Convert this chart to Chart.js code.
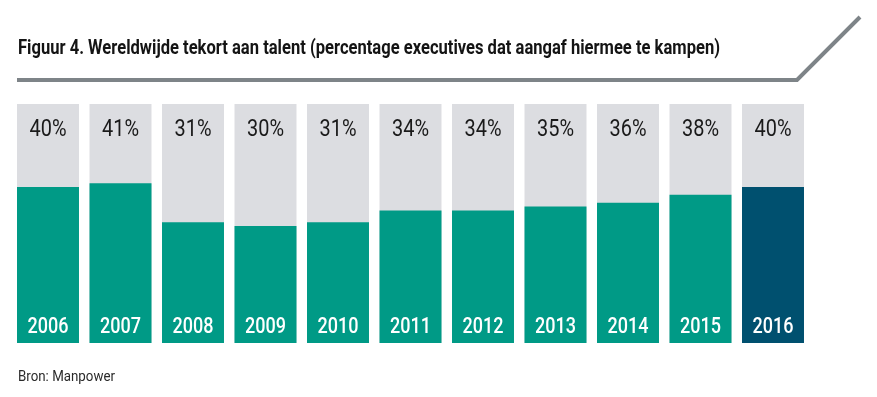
<!DOCTYPE html>
<html>
<head>
<meta charset="utf-8">
<script src="https://cdn.jsdelivr.net/npm/chart.js@4"></script>
<style>
  html, body { margin: 0; padding: 0; background: #ffffff; }
  #wrap { width: 877px; height: 397px; position: relative; }
</style>
</head>
<body>
<div id="wrap"><canvas id="talentChart" width="877" height="397"></canvas></div>
<script>
// Chart data
const years = ['2006', '2007', '2008', '2009', '2010', '2011', '2012', '2013', '2014', '2015', '2016'];
const shortagePct = [40, 41, 31, 30, 31, 34, 34, 35, 36, 38, 40];
const yMax = 61.3;

const titleText = 'Figuur 4. Wereldwijde tekort aan talent (percentage executives dat aangaf hiermee te kampen)';
const sourceText = 'Bron: Manpower';

// No condensed face installed, so text is squeezed with fillText's maxWidth
const fontFamily = "Roboto, 'DejaVu Sans', sans-serif";

// Colours: teal for all years, dark blue for the latest one
const barColors = years.map((y, i) => i === years.length - 1 ? '#00506f' : '#009a86');

// Title, rule line and source text
const frame = {
    id: 'frame',
    afterDraw(chart) {
        const ctx = chart.ctx;
        ctx.save();
        ctx.textBaseline = 'alphabetic';
        ctx.textAlign = 'left';
        ctx.fillStyle = '#141414';
        ctx.font = 'bold 20px ' + fontFamily;
        ctx.fillText(titleText, 18, 54, 702);

        ctx.strokeStyle = '#7e8488';
        ctx.lineWidth = 4;
        ctx.beginPath();
        ctx.moveTo(17, 80);
        ctx.lineTo(797, 80);
        ctx.lineTo(860, 17);
        ctx.stroke();

        ctx.fillStyle = '#2a2a2a';
        ctx.font = '14px ' + fontFamily;
        ctx.fillText(sourceText, 18, 381, 97);
        ctx.restore();
    }
};

// Percentage and year labels on the bars
const barLabels = {
    id: 'barLabels',
    afterDatasetsDraw(chart) {
        const ctx = chart.ctx;
        const meta = chart.getDatasetMeta(0);
        ctx.save();
        ctx.textAlign = 'center';
        ctx.textBaseline = 'alphabetic';
        meta.data.forEach((bar, i) => {
            ctx.fillStyle = '#1a1a1a';
            ctx.font = '24px ' + fontFamily;
            ctx.fillText(shortagePct[i] + '%', bar.x, 136, 37);
            ctx.fillStyle = '#ffffff';
            ctx.font = '500 22px ' + fontFamily;
            ctx.fillText(years[i], bar.x, 333, 41);
        });
        ctx.restore();
    }
};

document.addEventListener('DOMContentLoaded', function() {
    const ctx = document.getElementById('talentChart').getContext('2d');
    new Chart(ctx, {
        type: 'bar',
        data: {
            labels: years,
            datasets: [{
                label: 'Tekort aan talent',
                data: shortagePct,
                backgroundColor: barColors,
                borderWidth: 0,
                order: 0
            }, {
                label: 'Achtergrond',
                data: years.map(() => yMax),
                backgroundColor: '#dcdde1',
                borderWidth: 0,
                order: 1
            }]
        },
        options: {
            responsive: false,
            animation: false,
            layout: {
                padding: { left: 11.75, right: 67.75, top: 104, bottom: 54 }
            },
            datasets: {
                bar: {
                    grouped: false,
                    barPercentage: 0.855,
                    categoryPercentage: 1
                }
            },
            scales: {
                x: { display: false },
                y: { display: false, min: 0, max: yMax }
            },
            plugins: {
                legend: { display: false },
                tooltip: { enabled: false }
            }
        },
        plugins: [frame, barLabels]
    });
});
</script>
</body>
</html>
